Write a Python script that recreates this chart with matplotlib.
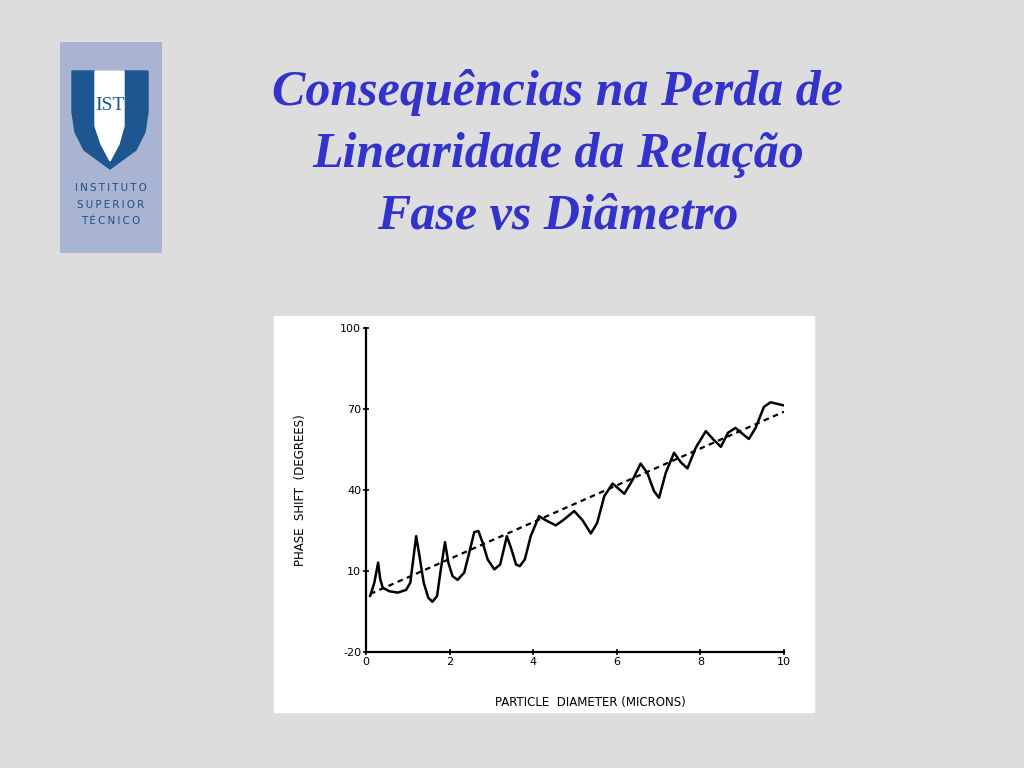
import matplotlib.pyplot as plt
from matplotlib.patches import Rectangle, Polygon

plt.rcParams["axes.unicode_minus"] = False

# dados
diametro = [0.10, 0.20, 0.29, 0.34, 0.40, 0.56, 0.76, 0.96, 1.06, 1.14, 1.20, 1.28, 1.38,
            1.49, 1.59, 1.70, 1.79, 1.89, 1.97, 2.07, 2.19, 2.35, 2.47, 2.59, 2.69, 2.79,
            2.91, 3.07, 3.21, 3.37, 3.48, 3.59, 3.68, 3.80, 3.94, 4.14, 4.30, 4.54, 4.74,
            4.98, 5.18, 5.38, 5.53, 5.70, 5.90, 6.18, 6.38, 6.57, 6.73, 6.89, 7.01, 7.17,
            7.37, 7.53, 7.69, 7.89, 8.13, 8.31, 8.49, 8.66, 8.84, 9.00, 9.16, 9.32, 9.52,
            9.68, 10.0]
fase = [0.8, 5.7, 13.1, 7.0, 3.8, 2.5, 2.0, 3.0, 5.7, 15.5, 22.9, 15.5, 5.7,
        0.1, -1.4, 0.7, 10.6, 20.7, 13.1, 8.1, 6.7, 9.4, 16.8, 24.4, 24.8, 20.5,
        14.3, 10.6, 12.4, 22.9, 18.0, 12.4, 11.8, 14.3, 22.9, 30.3, 28.8, 26.9, 29.1,
        32.2, 28.8, 23.9, 27.8, 37.7, 42.4, 38.6, 43.8, 49.8, 46.3, 39.6, 37.1, 46.3,
        53.8, 50.3, 48.0, 55.7, 61.8, 58.7, 56.0, 61.2, 63.0, 60.9, 58.9, 63.0, 70.8,
        72.5, 71.3]

# recta de referencia (tracejada)
recta_x = [0.1, 10.0]
recta_y = [1.5, 69.0]

x_ticks = [0, 2, 4, 6, 8, 10]
y_ticks = [-20, 10, 40, 70, 100]

titulo = ["Consequências na Perda de", "Linearidade da Relação", "Fase vs Diâmetro"]
logo_texto = ["INSTITUTO", "SUPERIOR", "TÉCNICO"]

W, H = 1024, 768
fig = plt.figure(figsize=(10.24, 7.68), dpi=100)
fig.patch.set_facecolor("#dddddd")

# Titulo
for i, linha in enumerate(titulo):
    fig.text(558 / W, 1 - (93 + i * 62) / H, linha, ha="center", va="center",
             fontsize=36, fontstyle="italic", fontweight="bold",
             family="Liberation Serif", color="#3333cc")

# Logotipo
logo = fig.add_axes([60 / W, 1 - 253 / H, 102 / W, 211 / H])
logo.set_xlim(60, 162)
logo.set_ylim(253, 42)
logo.axis("off")
logo.add_patch(Rectangle((60, 42), 102, 211, color="#a9b4d3"))
escudo = [(72, 71), (148, 71), (148, 112), (145, 132), (136, 150), (110, 169),
          (84, 150), (75, 132), (72, 112)]
logo.add_patch(Polygon(escudo, closed=True, color="#1d5690"))
branco = [(95, 71), (124, 71), (124, 126), (119, 144), (110, 161), (101, 144), (95, 126)]
logo.add_patch(Polygon(branco, closed=True, color="white"))
logo.text(110, 106, "IST", ha="center", va="center", fontsize=14, color="#1d5690",
          family="Liberation Serif")
for i, t in enumerate(logo_texto):
    logo.text(111, 188 + i * 16.5, "\u2009".join(t), ha="center", va="center",
              fontsize=7.5, color="#1d4f86", family="DejaVu Sans")

# Imagem do grafico (fundo branco)
fig.add_artist(Rectangle((274 / W, 1 - 712 / H), 540 / W, 396 / H,
                         transform=fig.transFigure, color="white", zorder=0))

ax = fig.add_axes([366 / W, 1 - 652 / H, 418 / W, 324 / H])
ax.set_facecolor("white")
ax.plot(diametro, fase, color="black", linewidth=1.8, solid_joinstyle="round")
ax.plot(recta_x, recta_y, color="black", linewidth=1.6, linestyle=(0, (2.5, 2)))

ax.set_xlim(0, 10)
ax.set_ylim(-20, 100)
ax.set_xticks(x_ticks)
ax.set_yticks(y_ticks)
ax.tick_params(axis="both", direction="inout", length=5, width=1.2,
               labelsize=8, colors="black", pad=1)
for lado in ["top", "right"]:
    ax.spines[lado].set_visible(False)
for lado in ["left", "bottom"]:
    ax.spines[lado].set_linewidth(1.6)

ax.set_xlabel("PARTICLE  DIAMETER (MICRONS)", fontsize=8.5)
ax.set_ylabel("PHASE  SHIFT  (DEGREES)", fontsize=8.5)
ax.xaxis.set_label_coords(0.536, -0.135)
ax.yaxis.set_label_coords(-0.14, 0.5)

fig.savefig("out.png", dpi=100, facecolor=fig.get_facecolor())
